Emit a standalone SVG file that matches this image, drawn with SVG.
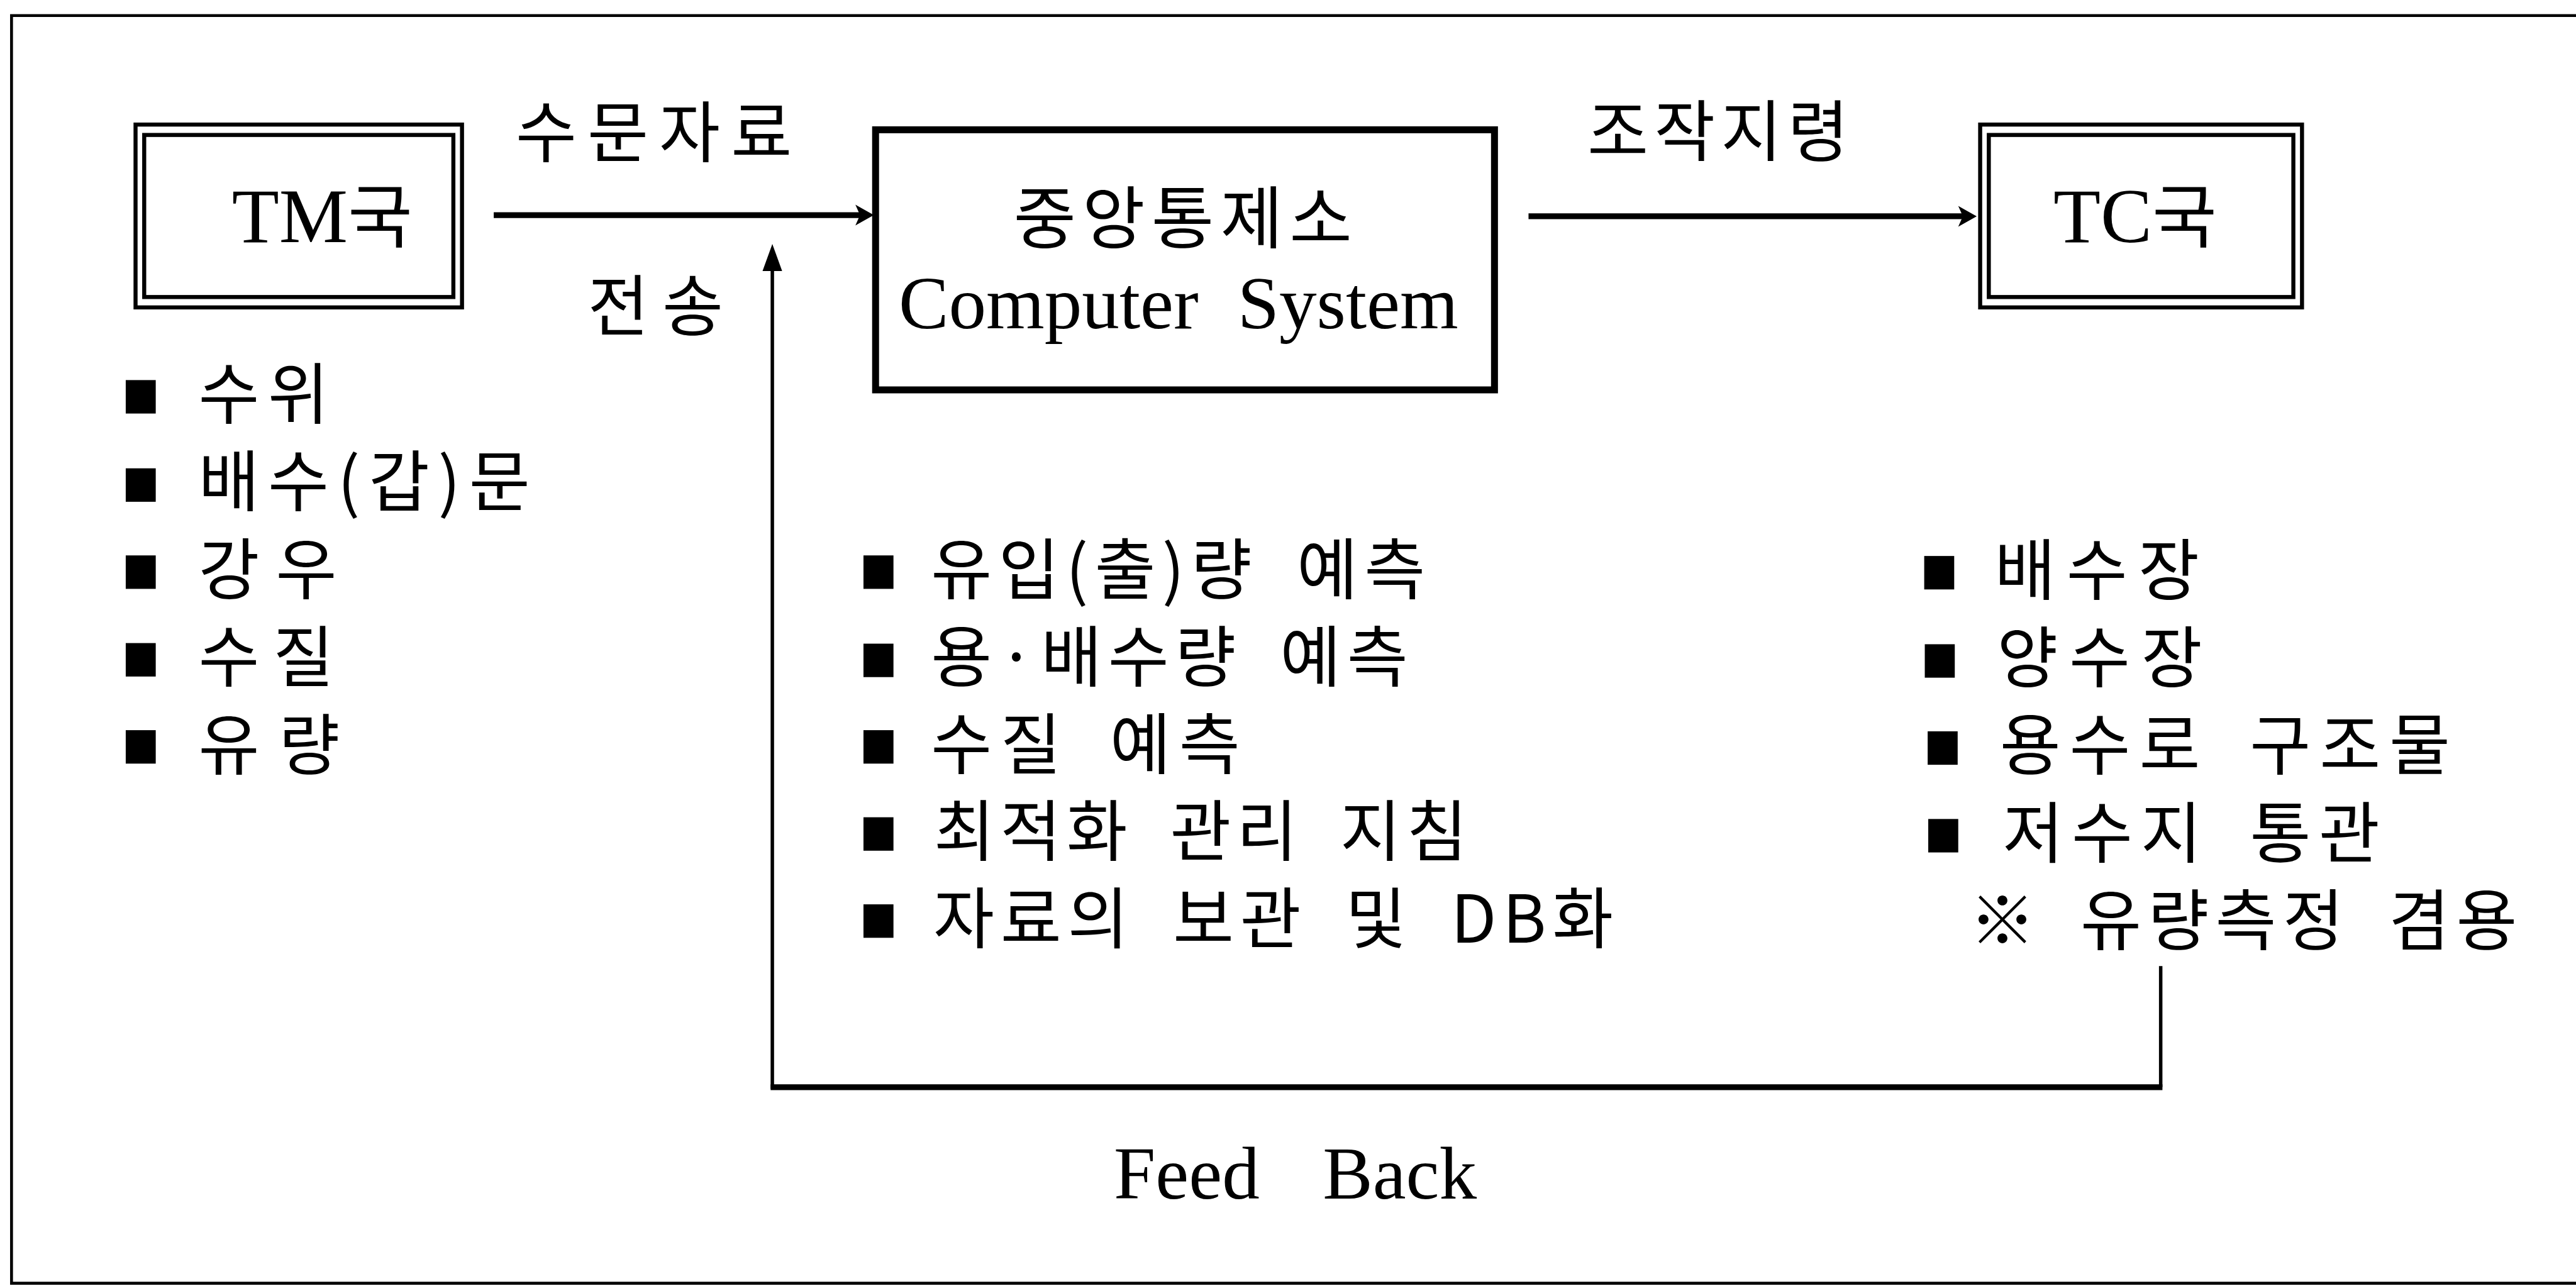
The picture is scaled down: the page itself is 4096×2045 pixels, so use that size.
<svg xmlns="http://www.w3.org/2000/svg" width="4096" height="2045" viewBox="0 0 4096 2045">
<style>
.ko{font-family:"Noto Sans CJK KR","Noto Sans CJK SC",sans-serif;font-size:115px;fill:#000;word-spacing:30px}
.lat{font-family:"Liberation Serif","Noto Sans CJK KR",serif;font-size:130px;fill:#000}
.ln{fill:none;stroke:#000}
.box{fill:#fff;stroke:#000;stroke-width:7}
.bul{fill:#000}
</style>
<defs>
<marker id="ah" viewBox="-20 -20 40 40" refX="0" refY="0" markerUnits="userSpaceOnUse" markerWidth="40" markerHeight="40" orient="auto" overflow="visible">
<path d="M15,0 L-17,-18 L-9,0 L-17,18 Z" fill="#000"/>
</marker>
<marker id="tri" viewBox="-35 -20 55 40" refX="0" refY="0" markerUnits="userSpaceOnUse" markerWidth="55" markerHeight="40" orient="auto" overflow="visible">
<path d="M17,0 L-30,-17 L-30,17 Z" fill="#000"/>
</marker>
</defs>
<rect x="0" y="0" width="4096" height="2045" fill="#fff"/>
<g transform="scale(0.91715)">
<g id="frame">
<path class="ln" stroke-width="5" d="M4466,27 H20 V2225 H4466"/>
</g>
<g id="connectors">
<path class="ln" stroke-width="10" d="M856,373 H1500" marker-end="url(#ah)"/>
<path class="ln" stroke-width="10" d="M2650,375 H3412" marker-end="url(#ah)"/>
<path class="ln" stroke-width="6" d="M3746,1675 V1885"/>
<path class="ln" stroke-width="10" d="M3749,1885 H1336"/>
<path class="ln" stroke-width="6" d="M1339,1888 V440" marker-end="url(#tri)"/>
<text class="ko" x="894" y="271" textLength="479" lengthAdjust="spacing">수문자료</text>
<text class="ko" x="1019" y="572" textLength="235" lengthAdjust="spacing">전송</text>
<text class="ko" x="2752" y="269" textLength="453" lengthAdjust="spacing">조작지령</text>
<text class="lat" x="1931" y="2078" style="word-spacing:77px">Feed Back</text>
</g>
<g id="node-tm">
<rect class="box" x="235" y="216" width="566" height="317"/>
<rect class="box" x="250" y="234" width="536" height="281"/>
<text class="lat" x="402" y="420" style="font-size:134px">TM<tspan class="ko" style="font-size:122px">국</tspan></text>
</g>
<g id="node-center">
<rect fill="#fff" stroke="#000" stroke-width="12" x="1518" y="225" width="1073" height="451"/>
<text class="ko" x="1757" y="421" textLength="587" lengthAdjust="spacing" style="font-size:118px">중앙통제소</text>
<text class="lat" x="1558" y="569" style="word-spacing:35px">Computer System</text>
</g>
<g id="node-tc">
<rect class="box" x="3433" y="216" width="558" height="317"/>
<rect class="box" x="3448" y="234" width="528" height="281"/>
<text class="lat" x="3560" y="420" style="font-size:134px">TC<tspan class="ko" style="font-size:122px">국</tspan></text>
</g>
<g id="list-tm">
<rect class="bul" x="218" y="659" width="52" height="58"/>
<rect class="bul" x="218" y="812" width="52" height="58"/>
<rect class="bul" x="218" y="963" width="52" height="58"/>
<rect class="bul" x="218" y="1115" width="52" height="58"/>
<rect class="bul" x="218" y="1266" width="52" height="58"/>
<text class="ko" x="344" y="725" textLength="226" lengthAdjust="spacing">수위</text>
<text class="ko" x="344" y="877" textLength="575" lengthAdjust="spacing">배수(갑)문</text>
<text class="ko" x="344" y="1029" textLength="240" lengthAdjust="spacing">강우</text>
<text class="ko" x="344" y="1181" textLength="235" lengthAdjust="spacing">수질</text>
<text class="ko" x="344" y="1333" textLength="245" lengthAdjust="spacing">유량</text>
</g>
<g id="list-center">
<rect class="bul" x="1497" y="963" width="52" height="58"/>
<rect class="bul" x="1497" y="1116" width="52" height="58"/>
<rect class="bul" x="1497" y="1266" width="52" height="58"/>
<rect class="bul" x="1497" y="1417" width="52" height="58"/>
<rect class="bul" x="1497" y="1568" width="52" height="58"/>
<text class="ko" x="1614" y="1029" textLength="857" lengthAdjust="spacing">유입(출)량 예측</text>
<text class="ko" x="1614" y="1181" textLength="827" lengthAdjust="spacing">용·배수량 예측</text>
<text class="ko" x="1614" y="1332" textLength="536" lengthAdjust="spacing">수질 예측</text>
<text class="ko" x="1619" y="1483" textLength="925" lengthAdjust="spacing">최적화 관리 지침</text>
<text class="ko" x="1618" y="1634" textLength="1179" lengthAdjust="spacing">자료의 보관 및 DB화</text>
</g>
<g id="list-tc">
<rect class="bul" x="3336" y="964" width="52" height="58"/>
<rect class="bul" x="3337" y="1117" width="52" height="58"/>
<rect class="bul" x="3342" y="1268" width="52" height="58"/>
<rect class="bul" x="3343" y="1420" width="52" height="58"/>
<text class="ko" x="3458" y="1030" textLength="355" lengthAdjust="spacing">배수장</text>
<text class="ko" x="3462" y="1182" textLength="356" lengthAdjust="spacing">양수장</text>
<text class="ko" x="3467" y="1334" textLength="781" lengthAdjust="spacing">용수로 구조물</text>
<text class="ko" x="3472" y="1486" textLength="654" lengthAdjust="spacing">저수지 통관</text>
<text class="ko" x="3414" y="1638" textLength="950" lengthAdjust="spacing">※ 유량측정 겸용</text>
</g>
</g>
</svg>
